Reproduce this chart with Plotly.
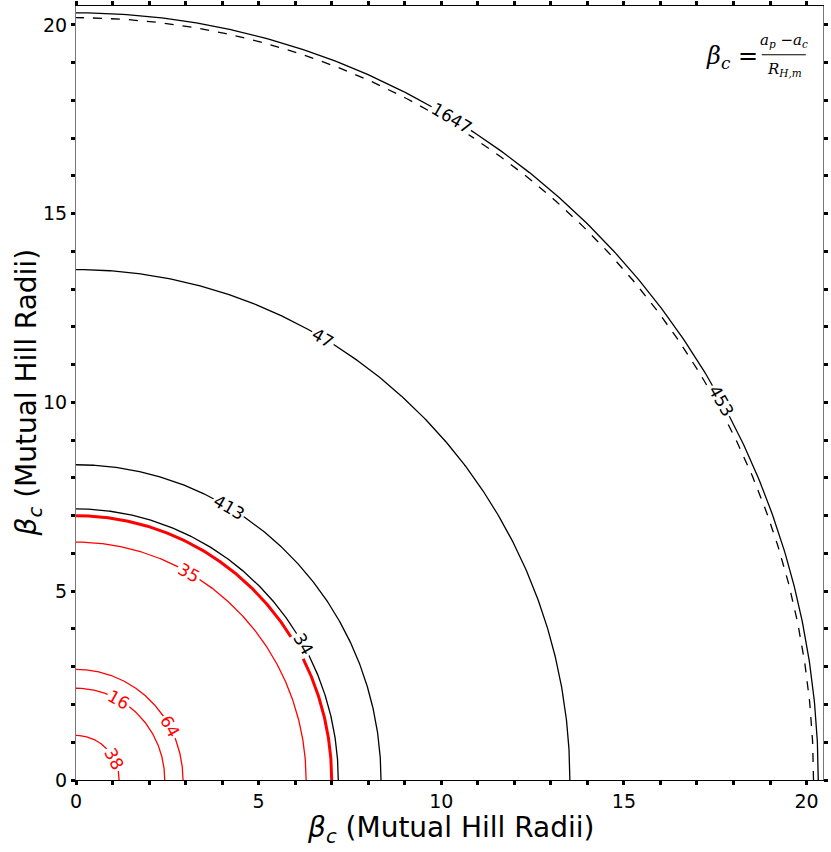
import numpy as np
import plotly.graph_objects as go

# 各条等值线的半径 (Mutual Hill Radii)
radii = [1.18, 2.43, 2.93, 6.30, 7.00, 7.18, 8.35, 13.52, 20.19, 20.32]
colors = ['red', 'red', 'red', 'red', 'red', 'black', 'black', 'black', 'black', 'black']
widths = [1.3, 1.3, 1.3, 1.3, 3.0, 1.3, 1.3, 1.3, 1.3, 1.3]
dashes = ['solid'] * 8 + ['dash', 'solid']

# 标签: 所在半径序号, 文本, 极角(度)
label_idx = [0, 1, 2, 3, 5, 6, 7, 9, 9]
label_text = ['38', '16', '64', '35', '34', '413', '47', '1647', '453']
label_deg = [28, 61, 29, 60.5, 30, 60, 60, 59.6, 29.6]

fig = go.Figure()

theta = np.linspace(0, np.pi / 2, 300)
for r, c, w, d in zip(radii, colors, widths, dashes):
    fig.add_trace(go.Scatter(x=r * np.cos(theta), y=r * np.sin(theta), mode='lines',
                             line=dict(color=c, width=w, dash=d), hoverinfo='skip',
                             showlegend=False))

# 等值线上的标签
for i, t, a in zip(label_idx, label_text, label_deg):
    r = radii[i]
    rad = np.radians(a)
    fig.add_annotation(x=r * np.cos(rad), y=r * np.sin(rad), text=t, showarrow=False,
                       textangle=90 - a, bgcolor='white', borderpad=1,
                       font=dict(family='DejaVu Sans', size=17, color=colors[i]))

# 右上角公式
formula_font = dict(family='DejaVu Serif', size=24, color='black')
small_font = dict(family='DejaVu Serif', size=15, color='black')
fig.add_annotation(xref='paper', yref='paper', x=0.915, y=0.933, xanchor='right',
                   yanchor='middle', text='<i>β</i><sub><i>c</i></sub> =',
                   showarrow=False, font=formula_font)
fig.add_annotation(xref='paper', yref='paper', x=0.948, y=0.955, xanchor='center',
                   yanchor='middle',
                   text='<i>a</i><sub><i>p</i></sub> −<i>a</i><sub><i>c</i></sub>',
                   showarrow=False, font=small_font)
fig.add_annotation(xref='paper', yref='paper', x=0.948, y=0.918, xanchor='center',
                   yanchor='middle', text='<i>R</i><sub><i>H,m</i></sub>',
                   showarrow=False, font=small_font)
fig.add_shape(type='line', xref='paper', yref='paper', x0=0.918, x1=0.977, y0=0.937, y1=0.937,
              line=dict(color='black', width=1))

axis_common = dict(
    showgrid=False, zeroline=False, showline=True, mirror='allticks', automargin=False,
    ticks='outside', ticklen=4, tickwidth=3, tickcolor='black',
    tickmode='array', tickvals=[0, 5, 10, 15, 20],
    minor=dict(ticks='outside', ticklen=4, tickwidth=3, tickcolor='black', dtick=1),
    tickfont=dict(family='DejaVu Sans', size=19, color='black'),
)

fig.update_xaxes(range=[0, 20.45], linecolor='black', linewidth=1, **axis_common)
fig.update_yaxes(range=[0, 20.5], linecolor='#777777', linewidth=1, **axis_common)

# 坐标轴标题
title_text = '<i>β</i><sub><i>c</i></sub> (Mutual Hill Radii)'
title_font = dict(family='DejaVu Sans', size=28, color='black')
fig.add_annotation(xref='paper', yref='paper', x=0.502, y=-0.064, xanchor='center',
                   yanchor='middle', text=title_text, showarrow=False, font=title_font)
fig.add_annotation(xref='paper', yref='paper', x=-0.064, y=0.501, xanchor='center',
                   yanchor='middle', textangle=-90, text=title_text, showarrow=False,
                   font=title_font)

fig.update_layout(width=831, height=852, margin=dict(l=76, r=8, t=6, b=72),
                  plot_bgcolor='white', paper_bgcolor='white')

fig.write_html("out.html", config={'displayModeBar': False},
               post_script="document.body.style.margin='0px';")
